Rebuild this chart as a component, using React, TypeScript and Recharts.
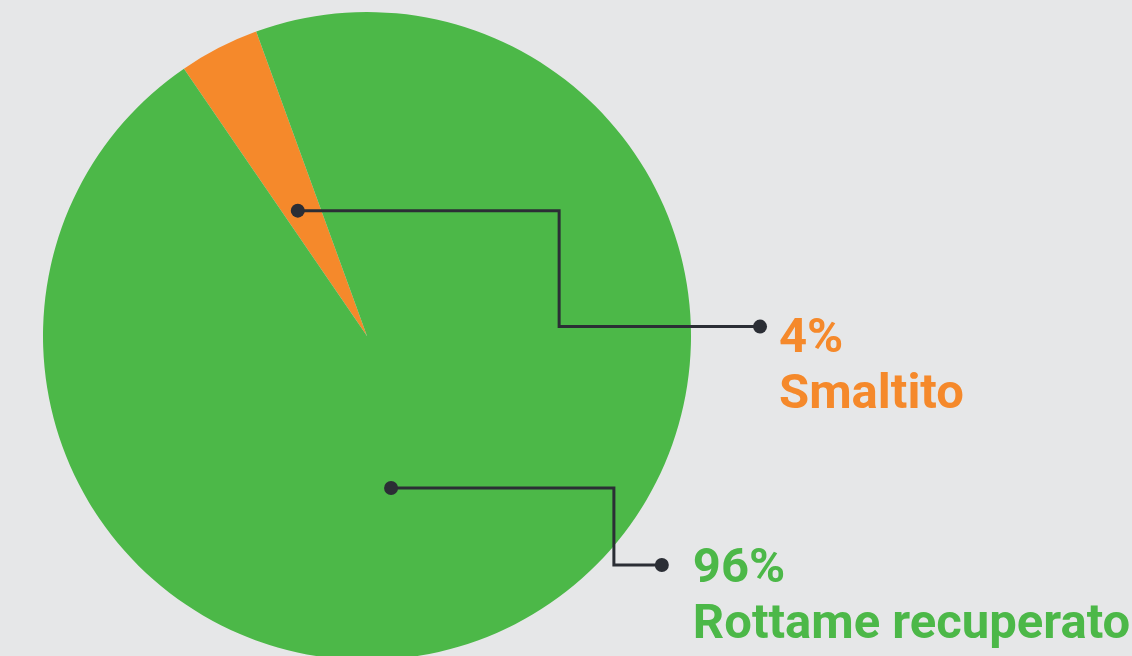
import React from 'react';
import { PieChart, Pie, Cell } from 'recharts';

const categories = ['Smaltito', 'Rottame recuperato'];
const shares = [4, 96];
const percentLabels = ['4%', '96%'];
const sliceColors = ['#f5892b', '#4cb848'];

const data = categories.map((name, i) => ({ name, value: shares[i], pct: percentLabels[i] }));

// leader-line layout, relative to pie centre and radius
const labelLayout = [
  { anchorAngle: 118.9, anchorRadius: 0.442, elbowX: 0.593, endY: -0.029, endX: 1.213, textDx: 19, textDy: 25 },
  { anchorAngle: -81, anchorRadius: 0.475, elbowX: 0.762, endY: 0.707, endX: 0.91, textDx: 31, textDy: 16.5 },
];

const RAD = Math.PI / 180;
const LINE = '#2b2e35';

const renderLabel = (props: any) => {
  const { cx, cy, outerRadius, index } = props;
  const L = labelLayout[index];
  const R = outerRadius;
  const ax = cx + Math.cos(L.anchorAngle * RAD) * L.anchorRadius * R;
  const ay = cy - Math.sin(L.anchorAngle * RAD) * L.anchorRadius * R;
  const ex = cx + L.endX * R;
  const ey = cy + L.endY * R;
  const mx = cx + L.elbowX * R;
  const color = sliceColors[index];
  const tx = ex + L.textDx;
  const ty = ey + L.textDy;
  return (
    <g key={`lbl-${index}`}>
      <path d={`M${ax},${ay}H${mx}V${ey}H${ex}`} fill="none" stroke={LINE} strokeWidth={3} />
      <circle cx={ax} cy={ay} r={7} fill={LINE} />
      <circle cx={ex} cy={ey} r={7} fill={LINE} />
      <text x={tx} y={ty} fill={color} fontFamily="Roboto, sans-serif" fontWeight={700} fontSize={49}>
        {data[index].pct}
      </text>
      <text x={tx} y={ty + 56} fill={color} fontFamily="Roboto, sans-serif" fontWeight={700} fontSize={49}>
        {data[index].name}
      </text>
    </g>
  );
};

export default function App() {
  return (
    <div style={{ position: 'absolute', left: 0, top: 0, width: 1132, height: 656, background: '#e6e7e8', overflow: 'hidden' }}>
      <PieChart width={1132} height={656} margin={{ top: 0, right: 0, bottom: 0, left: 0 }}>
        <Pie
          data={data}
          dataKey="value"
          nameKey="name"
          cx={367}
          cy={336}
          outerRadius={324}
          startAngle={110}
          endAngle={470}
          stroke="none"
          label={renderLabel}
          labelLine={false}
          isAnimationActive={false}
        >
          {data.map((d, i) => (
            <Cell key={d.name} fill={sliceColors[i]} />
          ))}
        </Pie>
      </PieChart>
    </div>
  );
}
